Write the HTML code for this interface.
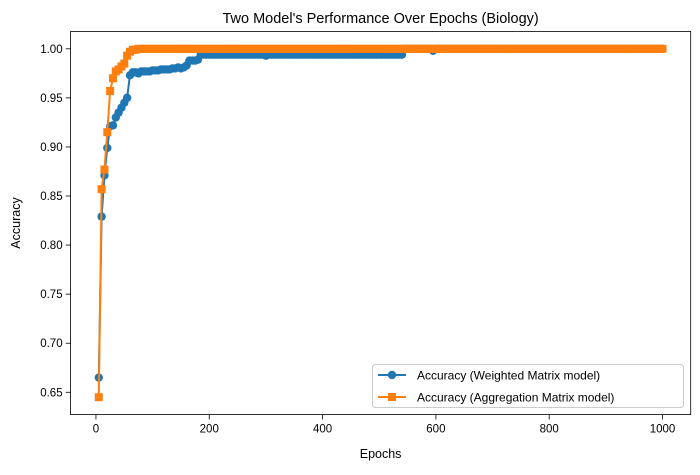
<!DOCTYPE html>
<html><head><meta charset="utf-8"><style>
body{margin:0;background:#fff;}
svg text{font-family:"Liberation Sans","DejaVu Sans",sans-serif;fill:#000;}
</style></head><body>
<svg id="chart" width="700" height="470" viewBox="0 0 700 470" xmlns="http://www.w3.org/2000/svg">
<rect width="700" height="470" fill="#fff"/>
<text x="380.6" y="23" font-size="14.5" text-anchor="middle">Two Model's Performance Over Epochs (Biology)</text>
<g id="plot"></g>
<text x="380.6" y="458" font-size="12.5" text-anchor="middle">Epochs</text>
<text x="0" y="0" font-size="12.5" text-anchor="middle" transform="translate(20,223) rotate(-90)">Accuracy</text>
</svg>
<script>
const xTicks=[0,200,400,600,800,1000];
const yTicks=[0.65,0.70,0.75,0.80,0.85,0.90,0.95,1.00];
const yTickLabels=["0.65","0.70","0.75","0.80","0.85","0.90","0.95","1.00"];
const epochs=[];for(let e=5;e<=1000;e+=5)epochs.push(e);
const weighted=[0.665,0.829,0.871,0.899,0.921,0.922,0.930,0.935,0.940,0.945,
0.950,0.973,0.976,0.976,0.975,0.977,0.977,0.977,0.977,0.978,
0.978,0.978,0.979,0.979,0.979,0.979,0.980,0.980,0.981,0.980,
0.981,0.983,0.988,0.988,0.988,0.989,
0.994,0.994,0.994,0.994,0.994,0.994,0.994,0.994,0.994,0.994,0.994,0.994,0.994,0.994,0.994,0.994,0.994,0.994,0.994,0.994,
0.994,0.994,0.994,0.993,0.994,0.994,0.994,0.994,0.994,0.994,0.994,0.994,0.994,0.994,0.994,0.994,0.994,0.994,0.994,0.994,0.994,
0.994,0.994,0.994,0.994,0.994,0.994,0.994,0.994,0.994,0.994,0.994,0.994,0.994,0.994,0.994,0.994,0.994,0.994,0.994,0.994,
0.994,0.994,0.994,0.994,0.994,0.994,0.994,0.994,0.994,0.994,0.994,
1.0,1.0,1.0,1.0,1.0,1.0,1.0,1.0,1.0,1.0,0.998,
1.0,1.0,1.0,1.0,1.0,1.0,1.0,1.0,1.0,1.0,1.0,1.0,1.0,1.0,1.0,1.0,1.0,1.0,1.0,1.0,
1.0,1.0,1.0,1.0,1.0,1.0,1.0,1.0,1.0,1.0,1.0,1.0,1.0,1.0,1.0,1.0,1.0,1.0,1.0,1.0,
1.0,1.0,1.0,1.0,1.0,1.0,1.0,1.0,1.0,1.0,1.0,1.0,1.0,1.0,1.0,1.0,1.0,1.0,1.0,1.0,
1.0,1.0,1.0,1.0,1.0,1.0,1.0,1.0,1.0,1.0,1.0,1.0,1.0,1.0,1.0,1.0,1.0,1.0,1.0,1.0,
1.0];
const aggregation=[0.645,0.857,0.877,0.915,0.957,0.970,0.977,0.979,0.982,0.985,0.993,0.997,0.999,0.999,
1.0,1.0,1.0,1.0,1.0,1.0,1.0,1.0,1.0,1.0,1.0,1.0,1.0,1.0,1.0,1.0,1.0,1.0,1.0,1.0,1.0,1.0,1.0,1.0,1.0,1.0,
1.0,1.0,1.0,1.0,1.0,1.0,1.0,1.0,1.0,1.0,1.0,1.0,1.0,1.0,1.0,1.0,1.0,1.0,1.0,1.0,1.0,1.0,1.0,1.0,1.0,1.0,
1.0,1.0,1.0,1.0,1.0,1.0,1.0,1.0,1.0,1.0,1.0,1.0,1.0,1.0,1.0,1.0,1.0,1.0,1.0,1.0,1.0,1.0,1.0,1.0,1.0,1.0,
1.0,1.0,1.0,1.0,1.0,1.0,1.0,1.0,1.0,1.0,1.0,1.0,1.0,1.0,1.0,1.0,1.0,1.0,1.0,1.0,1.0,1.0,1.0,1.0,1.0,1.0,
1.0,1.0,1.0,1.0,1.0,1.0,1.0,1.0,1.0,1.0,1.0,1.0,1.0,1.0,1.0,1.0,1.0,1.0,1.0,1.0,1.0,1.0,1.0,1.0,1.0,1.0,
1.0,1.0,1.0,1.0,1.0,1.0,1.0,1.0,1.0,1.0,1.0,1.0,1.0,1.0,1.0,1.0,1.0,1.0,1.0,1.0,1.0,1.0,1.0,1.0,1.0,1.0,
1.0,1.0,1.0,1.0,1.0,1.0,1.0,1.0,1.0,1.0,1.0,1.0,1.0,1.0,1.0,1.0,1.0,1.0,1.0,1.0,1.0,1.0,1.0,1.0,1.0,1.0,
1.0,1.0,1.0,1.0];

const NS="http://www.w3.org/2000/svg";
const L=70.6,R=690.7,T=31.4,B=414.6;
const allY=weighted.concat(aggregation);
const yMinD=Math.min(...allY),yMaxD=Math.max(...allY);
const xMinD=epochs[0],xMaxD=epochs[epochs.length-1];
const xm=(xMaxD-xMinD)*0.05, ym=(yMaxD-yMinD)*0.05;
const x0=xMinD-xm,x1=xMaxD+xm,y0=yMinD-ym,y1=yMaxD+ym;
const sx=v=>L+(v-x0)/(x1-x0)*(R-L);
const sy=v=>B-(v-y0)/(y1-y0)*(B-T);
const plot=document.getElementById('plot');
function mk(tag,attrs,parent){const e=document.createElementNS(NS,tag);for(const k in attrs)e.setAttribute(k,attrs[k]);(parent||plot).appendChild(e);return e;}

xTicks.forEach(t=>{
  const g=mk('g',{});
  
  
  mk('line',{x1:sx(t),x2:sx(t),y1:B,y2:B+4.9,stroke:'#000','stroke-width':0.8},g);
  const tx=mk('text',{x:sx(t),y:B+18,'font-size':11.5,'text-anchor':'middle'},g);tx.textContent=t;
});
yTicks.forEach((t,i)=>{
  const g=mk('g',{});
  
  
  mk('line',{x1:L-4.9,x2:L,y1:sy(t),y2:sy(t),stroke:'#000','stroke-width':0.8},g);
  const tx=mk('text',{x:L-8,y:sy(t)+4,'font-size':11.5,'text-anchor':'end'},g);tx.textContent=yTickLabels[i];
});

function series(vals,color,marker,name){
  const g=mk('g',{});
  
  
  const pts=vals.map((v,i)=>sx(epochs[i]).toFixed(2)+','+sy(v).toFixed(2)).join(' ');
  mk('polyline',{points:pts,fill:'none',stroke:color,'stroke-width':2,'stroke-linejoin':'round'},g);
  vals.forEach((v,i)=>{
    let m;
    if(marker==='o')m=mk('circle',{cx:sx(epochs[i]),cy:sy(v),r:4.2,fill:color},g);
    else m=mk('rect',{x:sx(epochs[i])-4,y:sy(v)-4,width:8,height:8,fill:color},g);
    
    
  });
}
series(weighted,'#1f77b4','o','series-weighted-matrix');
series(aggregation,'#ff7f0e','s','series-aggregation-matrix');

const frame=mk('rect',{x:L,y:T,width:R-L,height:B-T,fill:'none',stroke:'#000','stroke-width':0.8});



const lg=mk('g',{});


mk('rect',{x:372.5,y:364.5,width:311,height:43,rx:3,fill:'#fff','fill-opacity':0.8,stroke:'#ccc'},lg);
const entries=[['Accuracy (Weighted Matrix model)','#1f77b4','o'],['Accuracy (Aggregation Matrix model)','#ff7f0e','s']];
entries.forEach((en,i)=>{
  const y=375+i*22;
  const g=mk('g',{},lg);
  
  
  mk('line',{x1:378,x2:406,y1:y,y2:y,stroke:en[1],'stroke-width':2},g);
  if(en[2]==='o')mk('circle',{cx:392,cy:y,r:4.2,fill:en[1]},g);
  else mk('rect',{x:388,y:y-4,width:8,height:8,fill:en[1]},g);
  const t=mk('text',{x:417,y:y+4.5,'font-size':12},g);t.textContent=en[0];
});
</script>
</body></html>
